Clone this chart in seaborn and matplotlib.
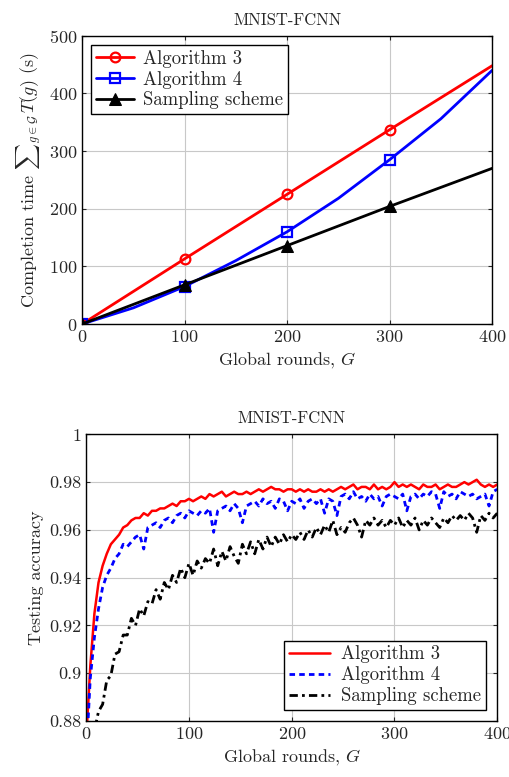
import numpy as np
import pandas as pd
import matplotlib
matplotlib.use("Agg")
import matplotlib.pyplot as plt
import seaborn as sns

# --- completion time (top panel) ---
rounds_coarse = [0, 100, 200, 300, 400]
rounds_alg4 = [0, 50, 100, 150, 200, 250, 300, 350, 400]
time_alg3 = [0, 113, 225, 337, 448]
time_alg4 = [0, 28, 65, 110, 160, 218, 285, 356, 440]
time_sampling = [0, 68, 136, 204, 270]

# --- testing accuracy (bottom panel), every 4 rounds ---
rounds_acc = list(range(0, 401, 4))
acc_alg3 = [
    0.872, 0.903, 0.925, 0.938, 0.945, 0.950, 0.954, 0.956, 0.958, 0.961,
    0.962, 0.964, 0.965, 0.965, 0.967, 0.966, 0.968, 0.968, 0.969, 0.969,
    0.970, 0.971, 0.970, 0.972, 0.972, 0.973, 0.972, 0.973, 0.974, 0.973,
    0.975, 0.974, 0.975, 0.976, 0.974, 0.975, 0.976, 0.975, 0.975, 0.976,
    0.975, 0.976, 0.977, 0.976, 0.977, 0.978, 0.977, 0.977, 0.976, 0.977,
    0.977, 0.976, 0.977, 0.976, 0.977, 0.976, 0.976, 0.977, 0.976, 0.977,
    0.976, 0.977, 0.978, 0.977, 0.978, 0.979, 0.977, 0.978, 0.978, 0.977,
    0.979, 0.977, 0.978, 0.977, 0.978, 0.980, 0.978, 0.979, 0.978, 0.979,
    0.978, 0.977, 0.979, 0.978, 0.978, 0.979, 0.977, 0.978, 0.979, 0.978,
    0.978, 0.979, 0.980, 0.979, 0.980, 0.981, 0.979, 0.978, 0.979, 0.978,
    0.979,
]
acc_alg4 = [
    0.865, 0.898, 0.915, 0.927, 0.936, 0.941, 0.944, 0.948, 0.950, 0.954,
    0.953, 0.955, 0.957, 0.958, 0.952, 0.961, 0.962, 0.963, 0.961, 0.964,
    0.965, 0.963, 0.966, 0.967, 0.965, 0.968, 0.967, 0.966, 0.968, 0.967,
    0.969, 0.959, 0.968, 0.969, 0.970, 0.968, 0.971, 0.969, 0.963, 0.970,
    0.971, 0.972, 0.970, 0.973, 0.971, 0.972, 0.969, 0.973, 0.972, 0.968,
    0.972, 0.971, 0.973, 0.969, 0.972, 0.973, 0.971, 0.973, 0.967, 0.973,
    0.972, 0.966, 0.974, 0.975, 0.973, 0.976, 0.973, 0.974, 0.972, 0.975,
    0.973, 0.974, 0.970, 0.974, 0.975, 0.974, 0.973, 0.975, 0.968, 0.974,
    0.975, 0.973, 0.975, 0.974, 0.976, 0.975, 0.969, 0.976, 0.974, 0.975,
    0.973, 0.976, 0.975, 0.974, 0.975, 0.973, 0.974, 0.975, 0.970, 0.976,
    0.977,
]
acc_sampling = [
    0.870, 0.872, 0.876, 0.884, 0.887, 0.897, 0.899, 0.908, 0.909, 0.916,
    0.916, 0.923, 0.920, 0.927, 0.924, 0.930, 0.929, 0.935, 0.931, 0.938,
    0.935, 0.941, 0.938, 0.944, 0.940, 0.946, 0.941, 0.947, 0.944, 0.948,
    0.946, 0.952, 0.945, 0.951, 0.947, 0.953, 0.949, 0.946, 0.954, 0.950,
    0.955, 0.950, 0.956, 0.952, 0.957, 0.953, 0.957, 0.954, 0.958, 0.955,
    0.958, 0.956, 0.959, 0.956, 0.960, 0.957, 0.961, 0.958, 0.962, 0.959,
    0.964, 0.958, 0.961, 0.959, 0.963, 0.965, 0.962, 0.957, 0.964, 0.962,
    0.965, 0.962, 0.964, 0.961, 0.964, 0.962, 0.965, 0.961, 0.964, 0.962,
    0.965, 0.960, 0.964, 0.962, 0.965, 0.963, 0.961, 0.965, 0.963, 0.966,
    0.964, 0.966, 0.964, 0.967, 0.965, 0.959, 0.966, 0.964, 0.967, 0.965,
    0.967,
]

sns.set_style("ticks")
plt.rcParams["font.family"] = ["cmr10", "DejaVu Serif"]
plt.rcParams["mathtext.fontset"] = "cm"
plt.rcParams["axes.formatter.use_mathtext"] = True
plt.rcParams["axes.unicode_minus"] = False

fig = plt.figure(figsize=(5.1, 7.77), dpi=100)
ax1 = fig.add_axes([0.161, 0.583, 0.804, 0.371])
ax2 = fig.add_axes([0.169, 0.072, 0.806, 0.369])

grid_kw = dict(color="#c8c8c8", linewidth=0.8)
fs = 13
lfs = 13.5

# top panel
sns.lineplot(x=rounds_coarse, y=time_alg3, ax=ax1, color="red", lw=2,
             marker="o", markevery=[0, 1, 2, 3], ms=7, mfc="none", mec="red",
             mew=1.6, label="Algorithm 3")
sns.lineplot(x=rounds_alg4, y=time_alg4, ax=ax1, color="blue", lw=2,
             marker="s", markevery=[0, 2, 4, 6], ms=7, mfc="none", mec="blue",
             mew=1.6, label="Algorithm 4")
sns.lineplot(x=rounds_coarse, y=time_sampling, ax=ax1, color="black", lw=2,
             marker="^", markevery=[0, 1, 2, 3], ms=8, mfc="black", mec="black",
             label="Sampling scheme")
ax1.set_xlim(0, 400)
ax1.set_ylim(0, 500)
ax1.set_xticks([0, 100, 200, 300, 400])
ax1.set_yticks([0, 100, 200, 300, 400, 500])
ax1.grid(True, **grid_kw)
ax1.set_title("MNIST-FCNN", fontsize=12, pad=8)
ax1.set_xlabel(r"Global rounds, $G$", fontsize=fs)
ax1.set_ylabel(r"Completion time ${\sum}_{g\in\mathcal{G}}\,T(g)$ (s)", fontsize=fs)
leg1 = ax1.legend(loc="upper left", fontsize=lfs, fancybox=False, framealpha=1,
                  edgecolor="black", handlelength=2.0, borderaxespad=0.5,
                  labelspacing=0.15, borderpad=0.25, handletextpad=0.5)
leg1.get_frame().set_linewidth(1.0)

# bottom panel
sns.lineplot(x=rounds_acc, y=acc_alg3, ax=ax2, color="red", lw=1.8,
             label="Algorithm 3")
sns.lineplot(x=rounds_acc, y=acc_alg4, ax=ax2, color="blue", lw=2,
             dashes=(2, 1.5), label="Algorithm 4")
sns.lineplot(x=rounds_acc, y=acc_sampling, ax=ax2, color="black", lw=2,
             dashes=(3, 1.5, 1, 1.5), label="Sampling scheme")
ax2.set_xlim(0, 400)
ax2.set_ylim(0.88, 1.0)
ax2.set_xticks([0, 100, 200, 300, 400])
ax2.set_yticks([0.88, 0.90, 0.92, 0.94, 0.96, 0.98, 1.0])
ax2.set_yticklabels(["0.88", "0.9", "0.92", "0.94", "0.96", "0.98", "1"])
ax2.grid(True, **grid_kw)
ax2.set_title("MNIST-FCNN", fontsize=12, pad=8)
ax2.set_xlabel(r"Global rounds, $G$", fontsize=fs)
ax2.set_ylabel("Testing accuracy", fontsize=fs)
leg2 = ax2.legend(loc="lower right", fontsize=lfs, fancybox=False, framealpha=1,
                  edgecolor="black", handlelength=2.2, borderaxespad=0.6,
                  labelspacing=0.15, borderpad=0.25, handletextpad=0.6)
leg2.get_frame().set_linewidth(1.0)

for ax in (ax1, ax2):
    ax.tick_params(direction="in", labelsize=fs, length=3, top=True, right=True)
    for s in ax.spines.values():
        s.set_color("black")
        s.set_linewidth(1.0)
    ax.set_axisbelow(True)

fig.savefig("out.png", dpi=100)
